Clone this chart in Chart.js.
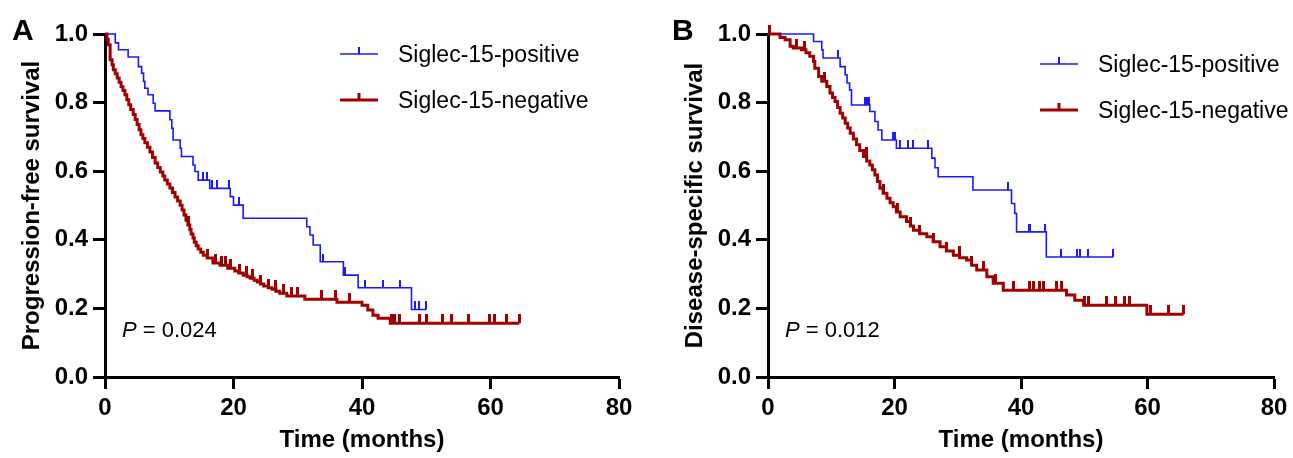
<!DOCTYPE html>
<html>
<head>
<meta charset="utf-8">
<script src="https://cdn.jsdelivr.net/npm/chart.js@4.4.1/dist/chart.umd.min.js"></script>
<style>
  body { margin: 0; background: #fff; }
  .panel { position: absolute; top: 0; height: 458px; }
</style>
</head>
<body>
<div class="panel" style="left:0;width:650px"><canvas id="chartA" width="650" height="458"></canvas></div>
<div class="panel" style="left:663px;width:630px"><canvas id="chartB" width="630" height="458"></canvas></div>
<script>
// Panel A - progression-free survival (event times in months, survival after each drop)
const pfsPosTime = [0, 1.6, 2.1, 3.6, 5.2, 5.7, 6.0, 6.2, 6.7, 7.5, 7.8, 10.1, 10.4, 10.6, 11.7, 11.9, 13.7, 14.0, 14.5, 16.3, 19.5, 20.0, 21.5, 31.4, 31.9, 32.4, 33.5, 37.1, 39.4, 47.7];
const pfsPosSurv = [1.0, 0.974, 0.954, 0.933, 0.905, 0.886, 0.862, 0.842, 0.823, 0.798, 0.776, 0.750, 0.725, 0.691, 0.667, 0.643, 0.618, 0.599, 0.574, 0.550, 0.526, 0.501, 0.463, 0.438, 0.414, 0.385, 0.336, 0.297, 0.260, 0.197];
const pfsPosCensor = [15.3, 15.8, 16.6, 17.4, 19.3, 20.8, 33.9, 37.3, 40.5, 43.3, 45.9, 48.2, 48.8, 50.0];

const pfsNegTime = [0, 0.3, 0.5, 0.8, 1.1, 1.3, 1.6, 1.9, 2.2, 2.5, 2.8, 3.1, 3.4, 3.7, 4.0, 4.4, 4.7, 5.0, 5.3, 5.6, 5.9, 6.2, 6.6, 7.0, 7.4, 7.8, 8.2, 8.6, 9.0, 9.3, 9.7, 10.1, 10.5, 10.9, 11.3, 11.7, 12.0, 12.3, 12.6, 12.9, 13.2, 13.4, 13.7, 13.9, 14.2, 14.5, 14.9, 15.3, 15.9, 16.8, 17.9, 19.1, 20.2, 20.8, 21.5, 22.1, 22.6, 23.2, 23.7, 24.2, 24.7, 25.4, 26.0, 26.6, 27.2, 28.3, 31.1, 36.1, 40.0, 40.9, 41.7, 42.5, 44.4];
const pfsNegSurv = [1.0, 0.985, 0.969, 0.925, 0.910, 0.896, 0.884, 0.872, 0.859, 0.846, 0.835, 0.823, 0.808, 0.794, 0.780, 0.765, 0.751, 0.736, 0.721, 0.706, 0.695, 0.683, 0.670, 0.656, 0.640, 0.624, 0.611, 0.598, 0.586, 0.574, 0.563, 0.551, 0.538, 0.525, 0.513, 0.501, 0.487, 0.472, 0.457, 0.443, 0.430, 0.417, 0.405, 0.393, 0.383, 0.373, 0.364, 0.355, 0.347, 0.332, 0.326, 0.317, 0.309, 0.303, 0.297, 0.292, 0.288, 0.282, 0.277, 0.271, 0.265, 0.260, 0.256, 0.250, 0.244, 0.236, 0.227, 0.218, 0.209, 0.195, 0.180, 0.171, 0.157];
const pfsNegCensor = [13.0, 16.0, 17.2, 18.2, 18.8, 19.6, 21.0, 22.0, 23.0, 24.2, 25.5, 26.5, 27.8, 29.0, 30.0, 33.7, 35.8, 38.1, 44.6, 45.1, 45.9, 49.0, 50.0, 52.6, 53.9, 56.5, 59.9, 60.7, 62.5, 64.5];

// Panel B - disease-specific survival
const dssPosTime = [0, 7.2, 8.5, 8.7, 11.4, 12.2, 12.5, 12.9, 13.2, 16.1, 16.9, 17.4, 18.0, 20.3, 25.9, 26.4, 26.9, 32.4, 38.5, 39.0, 39.3, 44.0];
const dssPosSurv = [1.0, 0.978, 0.954, 0.930, 0.905, 0.881, 0.857, 0.837, 0.793, 0.774, 0.745, 0.720, 0.691, 0.667, 0.638, 0.610, 0.584, 0.545, 0.506, 0.477, 0.423, 0.350];
const dssPosCensor = [11.1, 15.3, 15.6, 15.9, 19.8, 20.1, 20.9, 22.2, 23.0, 25.3, 38.0, 41.2, 41.5, 43.8, 46.4, 48.8, 49.3, 50.6, 54.6];

const dssNegTime = [0, 1.9, 2.7, 3.5, 4.0, 5.3, 6.0, 6.6, 7.2, 7.4, 8.0, 8.5, 9.3, 9.8, 10.2, 10.6, 11.0, 11.4, 11.8, 12.2, 12.6, 13.0, 13.5, 14.0, 14.5, 15.1, 15.6, 16.1, 16.5, 16.9, 17.3, 17.7, 18.2, 18.8, 19.3, 19.8, 20.3, 20.9, 21.9, 22.5, 23.0, 24.0, 25.1, 26.1, 27.2, 28.2, 29.3, 30.3, 31.4, 32.2, 33.0, 34.6, 35.6, 37.2, 47.2, 48.5, 49.9, 59.9];
const dssNegSurv = [1.0, 0.990, 0.983, 0.964, 0.959, 0.954, 0.945, 0.935, 0.920, 0.900, 0.876, 0.862, 0.847, 0.828, 0.815, 0.803, 0.786, 0.769, 0.755, 0.740, 0.726, 0.711, 0.694, 0.677, 0.660, 0.643, 0.630, 0.618, 0.604, 0.589, 0.570, 0.550, 0.536, 0.521, 0.508, 0.496, 0.481, 0.467, 0.453, 0.440, 0.428, 0.418, 0.409, 0.394, 0.380, 0.367, 0.355, 0.348, 0.341, 0.326, 0.312, 0.292, 0.273, 0.253, 0.239, 0.224, 0.209, 0.183];
const dssNegCensor = [0.3, 4.5, 5.8, 9.0, 15.5, 18.3, 20.4, 22.5, 24.0, 26.2, 28.3, 30.2, 32.2, 34.0, 36.0, 38.8, 41.4, 41.9, 43.0, 43.5, 45.6, 46.4, 50.1, 50.6, 53.5, 54.9, 56.4, 57.2, 60.4, 63.3, 65.7];

const xTicks = [0, 20, 40, 60, 80];
const yTicks = [0, 0.2, 0.4, 0.6, 0.8, 1.0];
const groupLabels = ["Siglec-15-positive", "Siglec-15-negative"];

const BLUE = "#1a1aff";
const RED = "#a00000";
const FONT = '"Liberation Sans", Arial, Helvetica, sans-serif';

Chart.defaults.font.family = FONT;
Chart.defaults.color = "#000";

// small vertical tick used as censor mark (only upper half is painted, so it sits on top of the line)
function tickMark(color, w, h) {
  const c = document.createElement("canvas");
  c.width = w;
  c.height = h * 2;
  const g = c.getContext("2d");
  g.fillStyle = color;
  g.fillRect(0, 0, w, h);
  return c;
}
const blueTick = tickMark(BLUE, 2, 8);
const redTick = tickMark(RED, 3, 9);

function stepPoints(times, surv, censor) {
  const pts = times.map((t, i) => ({ x: t, y: surv[i] }));
  const end = Math.max(...censor);
  if (end > times[times.length - 1]) pts.push({ x: end, y: surv[surv.length - 1] });
  return pts;
}

function censorPoints(times, surv, censor) {
  return censor.map(t => {
    let s = surv[0];
    times.forEach((tt, i) => { if (tt <= t) s = surv[i]; });
    return { x: t, y: s };
  });
}

// legend, panel letter and p-value, drawn inside the plot like the original figure
const panelText = {
  id: "panelText",
  afterDraw(chart, args, opts) {
    const ctx = chart.ctx;
    ctx.save();
    ctx.fillStyle = "#000";
    ctx.textBaseline = "alphabetic";
    ctx.font = "bold 30px " + FONT;
    ctx.fillText(opts.letter, opts.letterX, 40);

    opts.items.forEach(item => {
      ctx.strokeStyle = item.color;
      ctx.lineWidth = item.width;
      ctx.beginPath();
      ctx.moveTo(opts.lx0, item.y);
      ctx.lineTo(opts.lx1, item.y);
      ctx.stroke();
      ctx.fillStyle = item.color;
      ctx.fillRect((opts.lx0 + opts.lx1) / 2 - item.tickW / 2, item.y - 7, item.tickW, 7);
      ctx.fillStyle = "#000";
      ctx.font = "23px " + FONT;
      ctx.fillText(item.label, opts.tx, item.base);
    });

    ctx.font = "italic 22px " + FONT;
    ctx.fillText("P", 122, 337);
    const pw = ctx.measureText("P").width;
    ctx.font = "22px " + FONT;
    ctx.fillText(" = " + opts.p, 122 + pw, 337);
    ctx.restore();
  }
};

function makeChart(id, pos, neg, yTitle, text, rightPad) {
  const axisCommon = {
    border: { display: true, color: "#000", width: 3 },
    grid: { drawOnChartArea: false, drawTicks: true, tickLength: 12, tickWidth: 3, tickColor: "#000" },
  };
  return new Chart(document.getElementById(id), {
    type: "line",
    data: {
      datasets: [
        {
          data: stepPoints(neg.time, neg.surv, neg.censor),
          stepped: "before",
          borderColor: RED,
          borderWidth: 3,
          pointRadius: 0,
          fill: false,
          clip: false,
        },
        {
          data: censorPoints(neg.time, neg.surv, neg.censor),
          showLine: false,
          pointStyle: redTick,
          pointRadius: 3,
          clip: false,
        },
        {
          data: stepPoints(pos.time, pos.surv, pos.censor),
          stepped: "before",
          borderColor: BLUE,
          borderWidth: 1.6,
          pointRadius: 0,
          fill: false,
          clip: false,
        },
        {
          data: censorPoints(pos.time, pos.surv, pos.censor),
          showLine: false,
          pointStyle: blueTick,
          pointRadius: 3,
          clip: false,
        },
      ],
    },
    options: {
      responsive: false,
      animation: false,
      events: [],
      layout: { padding: { left: 0, right: rightPad, top: 34, bottom: 0 } },
      scales: {
        x: {
          ...axisCommon,
          type: "linear",
          min: 0,
          max: 80,
          afterBuildTicks: s => { s.ticks = xTicks.map(v => ({ value: v })); },
          afterFit: s => { s.height = 81; },
          ticks: { font: { size: 24, weight: "bold" }, padding: 5, maxRotation: 0, color: "#000" },
          title: { display: true, text: "Time (months)", font: { size: 24, weight: "bold" }, padding: { top: 0, bottom: 3 }, color: "#000" },
        },
        y: {
          ...axisCommon,
          type: "linear",
          min: 0,
          max: 1,
          afterBuildTicks: s => { s.ticks = yTicks.map(v => ({ value: v })); },
          afterFit: s => { s.width = 105; },
          ticks: { font: { size: 24, weight: "bold" }, padding: 5, color: "#000", callback: v => v.toFixed(1) },
          title: { display: true, text: yTitle, font: { size: 24, weight: "bold" }, padding: { top: 18, bottom: 0 }, color: "#000" },
        },
      },
      plugins: {
        legend: { display: false },
        tooltip: { enabled: false },
        panelText: text,
      },
    },
    plugins: [panelText],
  });
}

makeChart(
  "chartA",
  { time: pfsPosTime, surv: pfsPosSurv, censor: pfsPosCensor },
  { time: pfsNegTime, surv: pfsNegSurv, censor: pfsNegCensor },
  "Progression-free survival",
  {
    letter: "A", letterX: 12, p: "0.024", lx0: 340, lx1: 378, tx: 398,
    items: [
      { label: groupLabels[0], color: BLUE, width: 1.6, tickW: 2, y: 54, base: 62 },
      { label: groupLabels[1], color: RED, width: 3, tickW: 3, y: 100, base: 108 },
    ],
  },
  31
);

makeChart(
  "chartB",
  { time: dssPosTime, surv: dssPosSurv, censor: dssPosCensor },
  { time: dssNegTime, surv: dssNegSurv, censor: dssNegCensor },
  "Disease-specific survival",
  {
    letter: "B", letterX: 9, p: "0.012", lx0: 377, lx1: 415, tx: 435,
    items: [
      { label: groupLabels[0], color: BLUE, width: 1.6, tickW: 2, y: 64, base: 72 },
      { label: groupLabels[1], color: RED, width: 3, tickW: 3, y: 110, base: 118 },
    ],
  },
  19
);
</script>
</body>
</html>
